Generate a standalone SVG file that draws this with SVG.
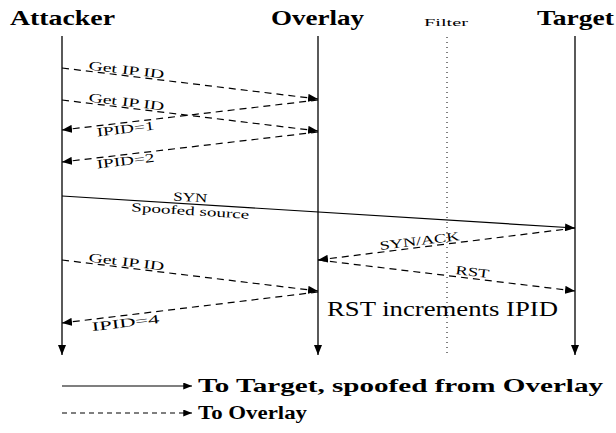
<svg xmlns="http://www.w3.org/2000/svg" width="616" height="433" viewBox="0 0 616 433">
<defs>
<style>
.life{stroke:#000;stroke-width:1.3;fill:none}
.msg{stroke:#000;stroke-width:1.2;fill:none}
.dash{stroke-dasharray:7,5}
.dot{stroke:#000;stroke-width:1;stroke-dasharray:1,4;fill:none}
text{font-family:'Liberation Serif','Times New Roman','DejaVu Serif',serif;fill:#000}
.title{font-size:21px;font-weight:bold}
.lbl{font-size:12.5px;text-anchor:middle}
.leg{font-size:18px;font-weight:bold}
</style>
<marker id="ah" viewBox="0 0 10 8" refX="10" refY="4" markerWidth="10" markerHeight="8" markerUnits="userSpaceOnUse" orient="auto">
<path d="M0,0 L10,4 L0,8 Z" fill="#000"/>
</marker>
<marker id="ahs" viewBox="0 0 10 8" refX="10" refY="4" markerWidth="9" markerHeight="7" markerUnits="userSpaceOnUse" orient="auto">
<path d="M0,0 L10,4 L0,8 Z" fill="#000"/>
</marker>
</defs>
<rect width="616" height="433" fill="#fff"/>

<g id="attacker">
<text class="title" x="10" y="25" textLength="105" lengthAdjust="spacingAndGlyphs">Attacker</text>
<line class="life" x1="62" y1="36" x2="62" y2="355" marker-end="url(#ah)"/>
</g>
<g id="overlay">
<text class="title" x="271" y="25" textLength="93" lengthAdjust="spacingAndGlyphs">Overlay</text>
<line class="life" x1="318" y1="36" x2="318" y2="355" marker-end="url(#ah)"/>
</g>
<g id="filter">
<text x="424" y="26" font-size="10.5" textLength="44" lengthAdjust="spacingAndGlyphs">Filter</text>
<line class="dot" x1="447" y1="37" x2="447" y2="355"/>
</g>
<g id="target">
<text class="title" x="537" y="25" textLength="77" lengthAdjust="spacingAndGlyphs">Target</text>
<line class="life" x1="575" y1="36" x2="575" y2="355" marker-end="url(#ah)"/>
</g>

<g id="connectors">
<line class="msg dash" x1="62" y1="68" x2="318" y2="99" marker-end="url(#ah)"/>
<line class="msg dash" x1="62" y1="100" x2="318" y2="131" marker-end="url(#ah)"/>
<line class="msg dash" x1="318" y1="100" x2="62" y2="130" marker-end="url(#ah)"/>
<line class="msg dash" x1="318" y1="132" x2="62" y2="162" marker-end="url(#ah)"/>
<line class="msg" x1="62" y1="196" x2="575" y2="228" marker-end="url(#ah)"/>
<line class="msg dash" x1="575" y1="228" x2="318" y2="260" marker-end="url(#ah)"/>
<line class="msg dash" x1="318" y1="260" x2="575" y2="291" marker-end="url(#ah)"/>
<line class="msg dash" x1="62" y1="260" x2="318" y2="291" marker-end="url(#ah)"/>
<line class="msg dash" x1="318" y1="292" x2="62" y2="323" marker-end="url(#ah)"/>

<text class="lbl" transform="translate(126,74) rotate(6.9)" textLength="76" lengthAdjust="spacingAndGlyphs">Get IP ID</text>
<text class="lbl" transform="translate(126,106) rotate(6.9)" textLength="76" lengthAdjust="spacingAndGlyphs">Get IP ID</text>
<text class="lbl" transform="translate(126,133) rotate(-6.7)" textLength="58" lengthAdjust="spacingAndGlyphs">IPID=1</text>
<text class="lbl" transform="translate(126,165) rotate(-6.7)" textLength="58" lengthAdjust="spacingAndGlyphs">IPID=2</text>
<text class="lbl" transform="translate(190,201.5) rotate(3.6)" textLength="34" lengthAdjust="spacingAndGlyphs">SYN</text>
<text class="lbl" transform="translate(190,215) rotate(3.6)" textLength="118" lengthAdjust="spacingAndGlyphs">Spoofed source</text>
<text class="lbl" transform="translate(420,245) rotate(-7.1)" textLength="80" lengthAdjust="spacingAndGlyphs">SYN/ACK</text>
<text class="lbl" transform="translate(472,276) rotate(6.9)" textLength="34" lengthAdjust="spacingAndGlyphs">RST</text>
<text class="lbl" transform="translate(126,266) rotate(6.9)" textLength="76" lengthAdjust="spacingAndGlyphs">Get IP ID</text>
<text class="lbl" transform="translate(126,327) rotate(-6.9)" font-size="14" textLength="68" lengthAdjust="spacingAndGlyphs">IPID=4</text>
<text x="327" y="316" font-size="21" textLength="231" lengthAdjust="spacingAndGlyphs">RST increments IPID</text>
</g>

<g id="legend">
<line class="msg" x1="62" y1="386" x2="192" y2="386" marker-end="url(#ahs)"/>
<text class="leg" x="198" y="392" textLength="405" lengthAdjust="spacingAndGlyphs">To Target, spoofed from Overlay</text>
<line class="msg" x1="62" y1="413" x2="192" y2="413" stroke-dasharray="5,4" marker-end="url(#ahs)"/>
<text class="leg" x="198" y="419" textLength="109" lengthAdjust="spacingAndGlyphs">To Overlay</text>
</g>
</svg>
